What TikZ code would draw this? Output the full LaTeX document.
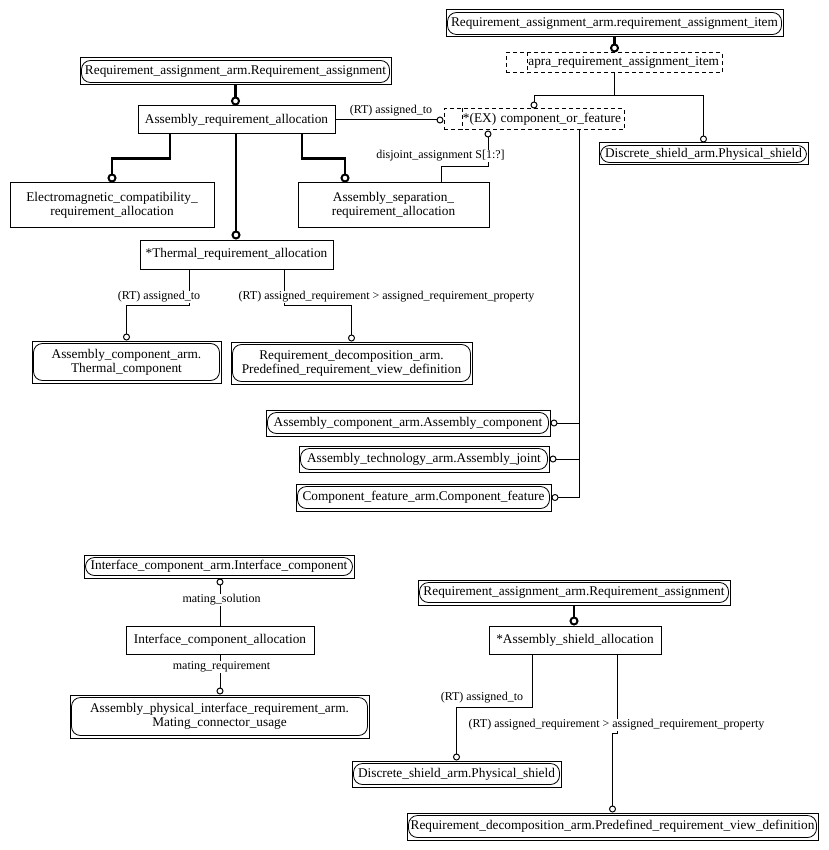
\documentclass[tikz,border=0pt]{standalone}
\usepackage{fontspec}
\setmainfont{Liberation Serif}
\usetikzlibrary{arrows.meta,calc}
\tikzset{
  box/.style={draw, line width=1pt, inner sep=0pt, align=center, font=\fontsize{13.3}{14}\selectfont},
  dbox/.style={draw, dash pattern=on 4pt off 3pt, line width=1pt, inner ysep=0pt, inner xsep=3pt, align=right, font=\fontsize{13.3}{14}\selectfont},
  lbl/.style={fill=white, inner sep=1pt, font=\fontsize{12}{13}\selectfont},
  thinc/.style={line width=1pt, -{Circle[open,length=7pt,width=7pt]}},
  thickc/.style={line width=2.6pt, -{Circle[open,length=9pt,width=9pt,line width=2pt]}},
  plain/.style={line width=1pt},
}
\newcommand\extnode[6]{%
  \node[box, minimum width={(#4-#2)*1pt}, minimum height={(#5-#3)*1pt}] (#1) at ({(#2+#4)/2},{(#3+#5)/2}) {#6};
  \draw[line width=0.8pt, rounded corners=9pt] ([xshift=2pt,yshift=-3pt]#1.north west) rectangle ([xshift=-2pt,yshift=3pt]#1.south east);
}
\newcommand\entnode[6]{%
  \node[box, minimum width={(#4-#2)*1pt}, minimum height={(#5-#3)*1pt}] (#1) at ({(#2+#4)/2},{(#3+#5)/2}) {#6};
}
\newcommand\selnode[7]{%
  \node[dbox, minimum width={(#4-#2)*1pt}, minimum height={(#5-#3)*1pt}, text width={(#4-#2-6)*1pt}] (#1) at ({(#2+#4)/2},{(#3+#5)/2}) {#7};
  \draw[dash pattern=on 4pt off 3pt, line width=1pt] (#1.north -| #6,0) -- (#1.south -| #6,0);
}
\begin{document}
\begin{tikzpicture}[x=1pt,y=-1pt]
\fill[white] (0,0) rectangle (828,850);
\useasboundingbox (0,0) rectangle (828,850);

% ---------- top right
\extnode{RAI}{446}{10}{783}{37}{Requirement\_assignment\_arm.requirement\_assignment\_item}
\selnode{apra}{506}{53}{722}{73}{527}{apra\_requirement\_assignment\_item}
\selnode{cof}{444}{109}{624}{130}{462}{*(EX) component\_or\_feature}
\extnode{DPS1}{599}{143}{808}{165}{Discrete\_shield\_arm.Physical\_shield}

% ---------- top left
\extnode{RAA}{80}{58}{391}{85}{Requirement\_assignment\_arm.Requirement\_assignment}
\entnode{ARA}{138}{106}{335}{134}{Assembly\_requirement\_allocation}
\entnode{EMC}{10}{183}{214}{227}{Electromagnetic\_compatibility\_\\requirement\_allocation}
\entnode{ASR}{298}{183}{489}{227}{Assembly\_separation\_\\requirement\_allocation}
\entnode{TRA}{140}{240}{333}{269}{*Thermal\_requirement\_allocation}
\extnode{ACT}{32}{341}{221}{383}{Assembly\_component\_arm.\\Thermal\_component}
\extnode{RDA}{231}{342}{472}{384}{Requirement\_decomposition\_arm.\\Predefined\_requirement\_view\_definition}

% ---------- middle right
\extnode{AC}{266}{410}{550}{436}{Assembly\_component\_arm.Assembly\_component}
\extnode{AJ}{299}{446}{549}{472}{Assembly\_technology\_arm.Assembly\_joint}
\extnode{CF}{296}{484}{551}{511}{Component\_feature\_arm.Component\_feature}

% ---------- bottom left
\extnode{ICX}{84}{555}{354}{578}{Interface\_component\_arm.Interface\_component}
\entnode{ICA}{126}{626}{314}{654}{Interface\_component\_allocation}
\extnode{APIR}{70}{695}{369}{738}{Assembly\_physical\_interface\_requirement\_arm.\\Mating\_connector\_usage}

% ---------- bottom right
\extnode{RAB}{418}{580}{730}{605}{Requirement\_assignment\_arm.Requirement\_assignment}
\entnode{ASA}{489}{626}{661}{654}{*Assembly\_shield\_allocation}
\extnode{DPS2}{352}{761}{561}{787}{Discrete\_shield\_arm.Physical\_shield}
\extnode{RDB}{407}{813}{818}{840}{Requirement\_decomposition\_arm.Predefined\_requirement\_view\_definition}

% ---------- connectors top right
\draw[thickc] (RAI.south) -- (RAI.south |- apra.north);
\draw[thinc] (apra.south) -- ++(0,22) -| (cof.north);
\draw[thinc] (apra.south) -- ++(0,22) -| (DPS1.north);

% ---------- connectors top left
\draw[thickc] (RAA.south) -- (RAA.south |- ARA.north);
\draw[thinc] (ARA.east) -- (ARA.east -| cof.west);
\node[lbl] (l1) at (391,111) {(RT) assigned\_to};
\draw[thinc] (ASR.north -| 441,0) -- ++(0,-16) -| (cof.south -| 488,0);
\node[lbl] (l2) at (440.5,156) {disjoint\_assignment S[1:?]};
\draw[thickc] (ARA.south -| 170,0) -- ++(0,24) -| (EMC.north);
\draw[thickc] (ARA.south -| 302,0) -- ++(0,24) -| (ASR.north -| 345,0);
\draw[thickc] (ARA.south -| 236,0) -- (TRA.north -| 236,0);

\draw[thinc] (TRA.south -| 189,0) -- ++(0,36) -| (ACT.north);
\draw[thinc] (TRA.south -| 284,0) -- ++(0,36) -| (RDA.north);
\node[lbl] (l3) at (159,297) {(RT) assigned\_to};
\node[lbl] (l4) at (386.5,297) {(RT) assigned\_requirement > assigned\_requirement\_property};

% ---------- select branches
\draw[thinc] (cof.south -| 579,0) |- (AC.east);
\draw[thinc] (cof.south -| 579,0) |- (AJ.east);
\draw[thinc] (cof.south -| 579,0) |- (CF.east);

% ---------- bottom left
\draw[thinc] (ICA.north) -- (ICA.north |- ICX.south);
\node[lbl] (l5) at (221.5,600) {mating\_solution};
\draw[thinc] (ICA.south) -- (ICA.south |- APIR.north);
\node[lbl] (l6) at (221.5,667) {mating\_requirement};

% ---------- bottom right
\draw[thickc] (RAB.south) -- (RAB.south |- ASA.north);
\draw[thinc] (ASA.south -| 532,0) -- ++(0,53) -| (DPS2.north);
\node[lbl] (l7) at (482,698) {(RT) assigned\_to};
\draw[thinc] (ASA.south -| 617,0) -- ++(0,79) -| (RDB.north);
\node[lbl] (l8) at (616.5,725) {(RT) assigned\_requirement > assigned\_requirement\_property};
\end{tikzpicture}
\end{document}
